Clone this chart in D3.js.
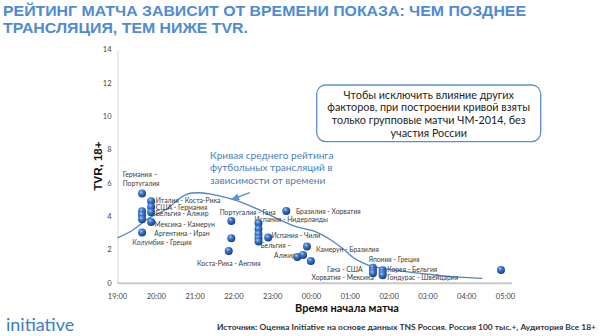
<!DOCTYPE html>
<html><head><meta charset="utf-8">
<script src="https://cdn.jsdelivr.net/npm/d3@7"></script>
<style>
html,body{margin:0;padding:0;background:#fff;}
svg{display:block;}
</style></head>
<body>
<svg id="c" width="600" height="336"></svg>
<script>
// ---- data ----
const titleLines = ["РЕЙТИНГ МАТЧА ЗАВИСИТ ОТ ВРЕМЕНИ ПОКАЗА: ЧЕМ ПОЗДНЕЕ", "ТРАНСЛЯЦИЯ, ТЕМ НИЖЕ TVR."];
const xTickLabels = ["19:00","20:00","21:00","22:00","23:00","00:00","01:00","02:00","03:00","04:00","05:00"];
const yTicks = [0,2,4,6,8,10,12,14];
const matchTimes = ["19:38","19:38","19:38","19:38","19:38","19:52","19:52","19:52","19:52",
  "21:56","21:56","21:52","22:38","22:38","22:38","22:38","22:38","22:53","23:21",
  "23:53","23:47","23:38","23:59","01:35","01:35","01:35","01:50","01:50","01:50","04:53"];
const matchTVR = [5.38,4.32,4.1,3.84,3.04,4.92,4.58,4.26,3.68,
  3.74,2.7,1.94,3.6,3.25,2.95,2.7,2.5,2.74,4.34,
  2.2,1.7,1.58,1.34,0.94,0.76,0.6,0.78,0.62,0.48,0.8];
const curveTimes = ["19:00","19:24","19:48","20:18","20:33","20:48","21:06","21:24","21:42","22:09","22:36","23:06","23:36","00:06","00:30","00:51","01:06","01:21","01:36","02:12","03:00","03:36","04:24"];
const curveTVR = [2.72,3.2,3.9,4.5,5.0,5.35,5.43,5.35,5.2,4.9,4.46,3.9,3.4,3.1,2.6,2.0,1.5,1.2,1.0,0.78,0.55,0.4,0.3];
const labelTexts = ["Германия –","Португалия","Италия - Коста-Рика","США - Германия","Бельгия - Алжир","Мексика - Камерун",
  "Аргентина - Иран","Колумбия - Греция","Португалия - Гана","Испания - Нидерланды","Испания - Чили","Бельгия –","Алжир",
  "Коста-Рика - Англия","Бразилия - Хорватия","Камерун - Бразилия","Япония - Греция","Гана - США","Хорватия - Мексика",
  "Корея - Бельгия","Гондурас - Швейцария"];
const labelTimes = ["19:08","19:08","19:59","19:59","19:59","19:57","19:57","19:23","21:38","22:32","22:58","22:41","23:02",
  "21:03","23:36","24:07","25:28","24:24","24:00","25:57","25:57"];
const labelTVR = [6.5,6.0,4.96,4.57,4.18,3.5,3.0,2.44,4.26,3.85,2.89,2.25,1.68,1.2,4.33,2.03,1.44,0.8,0.36,0.8,0.36];
const noteLines = ["Чтобы исключить влияние других","факторов, при построении кривой взяты","только групповые матчи ЧМ-2014, без","участия России"];
const curveNote = ["Кривая среднего рейтинга","футбольных трансляций в","зависимости от времени"];
const yTitle = "TVR, 18+";
const xTitle = "Время начала матча";
const logoText = "initiative";
const sourceText = "Источник: Оценка Initiative на основе данных TNS Россия. Россия 100 тыс.+, Аудитория Все 18+";

function toHours(s){ const [h,m]=s.split(":").map(Number); let v=h+m/60; if(v<12) v+=24; return v; }

// ---- scales ----
const svg = d3.select("#c");
const x = d3.scaleLinear().domain([19,29]).range([117.5,505.5]);
const y = d3.scaleLinear().domain([0,14]).range([283.3,49.9]);

// defs
const defs = svg.append("defs");
const g = defs.append("radialGradient").attr("id","ball").attr("cx","38%").attr("cy","32%").attr("r","70%");
g.append("stop").attr("offset","0%").attr("stop-color","#a9cdf5");
g.append("stop").attr("offset","35%").attr("stop-color","#3f7bd0");
g.append("stop").attr("offset","100%").attr("stop-color","#173a80");
defs.append("marker").attr("id","arr").attr("viewBox","0 0 10 10").attr("refX",8).attr("refY",5)
  .attr("markerWidth",6).attr("markerHeight",6).attr("orient","auto")
  .append("path").attr("d","M0,1 L9,5 L0,9 Z").attr("fill","#5b8fcf");

// title
svg.append("g").selectAll("text").data(titleLines).join("text")
  .attr("x",3).attr("y",(d,i)=>16.3+i*16.4)
  .attr("font-family","Liberation Sans, Arial, sans-serif").attr("font-weight","bold")
  .attr("font-size",15.5).attr("fill","#4f8ad4")
  .attr("textLength",(d,i)=>i==0?523:245).attr("lengthAdjust","spacingAndGlyphs")
  .text(d=>d);

// axes lines
svg.append("line").attr("x1",x(19)+0.5).attr("x2",x(19)+0.5).attr("y1",y(14)).attr("y2",y(0))
  .attr("stroke","#d9d9d9").attr("stroke-width",1);
svg.append("line").attr("x1",x(19)).attr("x2",x(29.17)).attr("y1",y(0)).attr("y2",y(0))
  .attr("stroke","#c8c8c8").attr("stroke-width",2);

// y ticks
svg.append("g").selectAll("text").data(yTicks).join("text")
  .attr("x",111.5).attr("y",d=>y(d)+2.5).attr("text-anchor","end")
  .attr("font-family","Lato, sans-serif").attr("font-size",7.5).attr("fill","#444").text(d=>d);
// x ticks
svg.append("g").selectAll("text").data(xTickLabels).join("text")
  .attr("x",(d,i)=>x(19+i)).attr("y",298.5).attr("text-anchor","middle")
  .attr("font-family","Lato, sans-serif").attr("font-size",7.5).attr("fill","#444").text(d=>d);

// axis titles
svg.append("text").attr("transform","translate(101.5,166) rotate(-90)").attr("text-anchor","middle")
  .attr("font-family","Liberation Sans, Arial, sans-serif").attr("font-weight","bold").attr("font-size",11.5)
  .attr("fill","#111").text(yTitle);
svg.append("text").attr("x",347).attr("y",311.5).attr("text-anchor","middle")
  .attr("font-family","Lato, sans-serif").attr("font-weight","bold").attr("font-size",11)
  .attr("fill","#111").text(xTitle);

// curve
const curveData = curveTimes.map((t,i)=>({t:toHours(t), v:curveTVR[i]}));
svg.append("path").datum(curveData)
  .attr("d",d3.line().x(d=>x(d.t)).y(d=>y(d.v)).curve(d3.curveCatmullRom.alpha(0.5)))
  .attr("fill","none").attr("stroke","#4f84c8").attr("stroke-width",1.3);

// labels
svg.append("g").selectAll("text").data(labelTexts).join("text")
  .attr("x",(d,i)=>x(toHours(labelTimes[i]))).attr("y",(d,i)=>y(labelTVR[i])+2.4)
  .attr("font-family","Lato, sans-serif").attr("font-size",6.8).attr("fill","#3a3a3a").text(d=>d);

// points
const pts = matchTimes.map((t,i)=>({t:toHours(t), v:matchTVR[i]}));
svg.append("g").selectAll("circle").data(pts).join("circle")
  .attr("cx",d=>x(d.t)).attr("cy",d=>y(d.v)).attr("r",4)
  .attr("fill","url(#ball)");

// curve note
svg.append("g").selectAll("text").data(curveNote).join("text")
  .attr("x",210).attr("y",(d,i)=>158.5+i*12.5)
  .attr("font-family","Lato, sans-serif").attr("font-size",10.1).attr("fill","#4a7ebb").text(d=>d);
svg.append("line").attr("x1",x(22.41)).attr("y1",y(5.44)).attr("x2",x(21.95)).attr("y2",y(5.04))
  .attr("stroke","#5b8fcf").attr("stroke-width",1.5).attr("marker-end","url(#arr)");

// text box
svg.append("rect").attr("x",316.7).attr("y",85).attr("width",224).attr("height",56.7).attr("rx",9)
  .attr("fill","#fff").attr("stroke","#5b8fcf").attr("stroke-width",1.3);
svg.append("g").selectAll("text").data(noteLines).join("text")
  .attr("x",428.7).attr("y",(d,i)=>98.7+i*12.6).attr("text-anchor","middle")
  .attr("font-family","Lato, sans-serif").attr("font-size",10.8).attr("fill","#222").text(d=>d);

// footer
svg.append("text").attr("x",6).attr("y",331).attr("font-family","Lato, sans-serif").attr("font-size",18)
  .attr("fill","#3d7cc4").text(logoText);
svg.append("text").attr("x",217).attr("y",330).attr("font-family","Lato, sans-serif").attr("font-size",8)
  .attr("font-weight","bold").attr("fill","#333").attr("textLength",379).attr("lengthAdjust","spacingAndGlyphs").text(sourceText);
</script>
</body></html>
